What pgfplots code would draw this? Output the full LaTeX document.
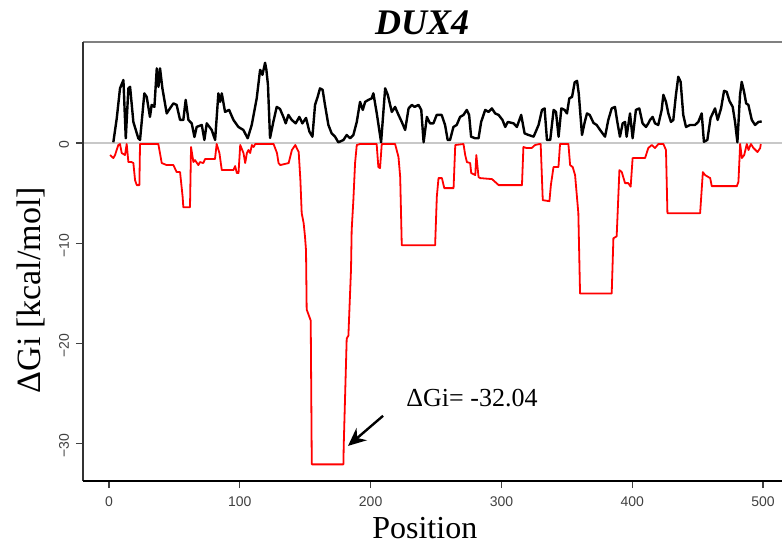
\documentclass[border=0pt]{standalone}
\usepackage{pgfplots}
\pgfplotsset{compat=1.18}
\usepackage{fontspec}
\setmainfont{Liberation Serif}
\newfontfamily\tickfont{Liberation Sans}
\usetikzlibrary{arrows.meta}
\definecolor{tickgray}{HTML}{404040}
\definecolor{zerogray}{HTML}{C8C8C8}
\begin{document}
\begin{tikzpicture}
\useasboundingbox (0,0) rectangle (391pt,274pt);
\begin{axis}[
  at={(41.5pt,33.5pt)}, anchor=south west,
  scale only axis, width=349.5pt, height=219.5pt,
  xmin=-19.9, xmax=514.5, ymin=-33.7, ymax=10.07,
  axis line style={draw=none},
  tick pos=left, tick align=outside,
  major tick length=3.5pt,
  every tick/.style={tickgray, line width=0.6pt},
  xtick={0,100,200,300,400,500},
  xticklabels={0,100,200,300,400,500},
  ytick={-30,-20,-10,0},
  yticklabels={−30,−20,−10,0},
  xticklabel style={font=\tickfont\fontsize{7}{8}\selectfont, text=tickgray, yshift=-1pt},
  yticklabel style={font=\tickfont\fontsize{7}{8}\selectfont, text=tickgray, rotate=90, anchor=south, xshift=-1pt},
  every axis title shift=0pt,
  title={\textbf{\textit{DUX4}}},
  title style={at={(axis description cs:0.485,1.018)}, anchor=base, yshift=0pt, font=\fontsize{18}{20}\selectfont},
  xlabel={Position},
  xlabel style={at={(axis description cs:0.489,-0.13)}, anchor=base, font=\fontsize{16}{18}\selectfont},
  ylabel={ΔGi [kcal/mol]},
  ylabel style={at={(axis description cs:-0.0615,0.435)}, anchor=base, rotate=0, font=\fontsize{17}{19}\selectfont},
  clip=false,
]
\draw[zerogray, line width=1pt] (axis cs:-19.9,0) -- (axis cs:514.5,0);
\draw[gray, line width=0.6pt] (rel axis cs:0,1) -- (rel axis cs:1,1);
\draw[black!80, line width=0.6pt] (rel axis cs:0,0) -- (rel axis cs:0,1);
\draw[black, line width=1.1pt] (rel axis cs:0,0) -- (rel axis cs:1,0);
\addplot[black, line width=1.2pt, line join=round] coordinates {
(3.3,0.07)(5.9,2.46)(8.4,5.45)(11.0,6.28)(12.8,0.47)(14.8,5.45)(16.1,5.6)(18.6,2.1)(22.4,0.47)(23.7,0.3)(27.0,4.95)(28.8,4.6)(31.3,2.6)(32.6,3.8)(34.7,3.6)(36.5,7.44)(37.8,5.6)(39.0,7.44)(40.8,5.45)(44.1,2.95)(46.6,3.45)(49.2,3.95)(51.7,3.8)(54.3,2.3)(56.8,2.3)(58.6,4.3)(60.7,2.3)(63.2,1.96)(65.3,0.6)(67.0,1.6)(70.9,1.8)(72.9,0.3)(74.7,1.96)(78.5,1.3)(81.1,0.3)(83.6,4.95)(84.9,4.1)(86.2,4.95)(88.7,3.1)(91.8,3.3)(95.1,2.3)(98.9,1.6)(102.7,1.3)(106.0,0.47)(109.1,1.8)(112.9,4.45)(115.5,7.3)(117.3,6.8)(119.3,8.0)(120.3,7.3)(121.5,5.8)(123.1,0.5)
(125.6,2.1)(128.2,3.6)(130.7,3.4)(133.3,2.6)(135.1,1.96)(137.1,2.8)(139.7,2.3)(142.7,1.96)(145.5,2.6)(147.8,1.96)(150.6,2.5)(153.2,1.13)(155.5,0.63)(157.5,3.8)(159.5,4.6)(161.3,5.45)(163.3,5.3)(165.1,3.8)(167.7,1.8)(170.2,0.96)(172.8,0.63)(175.3,0.07)(179.2,0.3)(181.7,0.8)(184.3,0.47)(186.8,0.8)(189.4,2.1)(191.9,4.1)(194.0,3.3)(195.8,4.1)(198.3,4.3)(200.8,4.45)(202.1,4.95)(204.7,2.95)(208.0,0.07)(211.1,5.45)(213.1,4.8)(216.2,3.1)(218.7,3.6)(220.8,2.95)(223.8,2.1)(226.4,1.3)(229.0,3.45)(231.5,3.8)(233.6,3.6)(236.6,3.8)(238.7,3.3)(240.5,0.07)(243.0,2.6)(245.4,1.96)(248.0,1.96)(250.5,2.8)(254.3,2.8)(256.9,1.8)(258.9,0.3)(260.7,0.3)(263.3,1.6)(265.8,1.8)(268.4,2.6)(271.0,2.8)(273.5,3.3)(275.3,2.8)(276.8,0.63)(279.9,0.47)(282.5,0.47)(284.5,2.1)(287.6,3.3)(290.1,3.1)(292.7,3.45)(295.2,2.95)(297.8,2.8)(300.8,2.3)(302.9,1.6)(304.9,2.1)(309.3,1.96)(311.8,1.6)(315.1,2.8)(317.7,0.96)(320.7,0.8)(324.6,0.63)(328.4,1.8)(331.0,3.3)(333.0,3.45)(334.8,0.3)(337.3,0.3)(339.9,3.3)(341.7,3.1)(343.7,0.63)(345.8,3.45)(348.3,3.3)(350.1,2.95)(351.9,4.45)(354.0,4.6)(356.0,6.05)(357.8,6.2)(359.1,4.95)(361.6,0.8)(363.7,2.1)(365.4,2.95)(367.5,2.8)(370.4,2.0)(372.8,1.8)(375.4,1.3)(379.2,0.63)(381.7,2.3)(384.3,3.45)(386.8,3.6)(388.6,2.1)(390.6,0.63)(392.7,1.96)(394.5,2.1)(395.7,0.63)(398.3,2.95)(400.3,0.47)(402.8,3.3)(405.4,3.45)(407.9,1.96)(410.5,1.6)(412.3,1.96)(413.6,2.3)(415.6,2.6)(417.4,1.96)(419.9,1.8)(422.5,3.3)(423.8,4.8)(425.8,4.1)(427.6,2.95)(429.6,2.1)(431.4,2.3)(433.4,4.8)(435.2,6.6)(437.0,6.1)(439.0,2.8)(441.1,1.6)(444.2,1.8)(448.0,1.8)(450.5,2.1)(453.1,2.95)(454.8,0.13)(457.4,0.3)(459.9,2.5)(463.3,3.45)(465.3,2.3)(467.9,3.45)(470.2,5.2)(472.2,5.1)(474.3,4.2)(476.8,3.6)(478.6,2.1)(480.4,0.07)(482.4,4.8)(483.7,6.1)(485.5,5.1)(487.1,3.95)(488.8,3.8)(491.4,2.3)(493.9,1.8)(496.5,2.1)(499.0,2.15)
};
\addplot[red, line width=0.9pt, line join=round] coordinates {
(0.8,-1.2)(3.3,-1.5)(4.6,-1.2)(7.1,-0.2)(8.4,-0.1)(9.7,-1.0)(12.2,-1.2)(13.5,-0.1)(14.8,-1.9)(17.3,-1.9)(18.6,-2.0)(19.9,-3.7)(21.2,-4.2)(23.2,-4.2)(23.7,-0.1)(37.7,-0.1)(40.3,-2.0)(44.1,-2.2)(49.2,-2.2)(51.7,-2.9)(54.3,-2.9)(56.3,-5.4)(56.8,-6.4)(61.9,-6.4)(62.7,-0.4)(64.5,-1.9)(65.7,-1.7)(68.3,-2.2)(69.5,-1.9)(72.1,-2.0)(73.4,-1.6)(81.0,-1.6)(82.3,-0.1)(84.4,-1.0)(86.2,-2.7)(95.1,-2.7)(96.4,-2.3)(97.7,-3.0)(99.0,-3.0)(100.3,-0.2)(102.8,-1.0)(104.1,-2.0)(105.4,-1.0)(106.6,-0.7)(107.9,-1.0)(109.2,-0.2)(110.5,-0.4)(111.8,-0.1)(125.8,-0.1)(128.4,-1.0)(129.6,-2.0)(130.9,-2.2)(137.3,-2.0)(139.8,-0.7)(142.4,-0.2)(145.0,-0.9)(146.3,-3.7)(147.3,-7.0)(148.8,-8.0)(149.8,-9.3)(150.6,-10.7)(151.1,-16.6)(154.2,-17.7)(155.0,-32.04)(179.2,-32.04)(179.4,-30.3)(181.7,-19.5)(183.0,-19.2)(185.0,-12.6)(185.5,-8.7)(186.8,-5.7)(188.1,-2.0)(189.4,-0.2)(191.9,-0.1)(204.6,-0.1)(205.9,-2.4)(207.2,-2.5)(208.5,-0.1)(218.7,-0.1)(221.3,-1.4)(222.6,-3.4)(223.8,-10.2)(249.3,-10.2)(250.6,-5.35)(251.9,-3.5)(254.5,-3.5)(256.3,-4.5)(263.4,-4.5)(264.7,-0.2)(271.0,-0.1)(272.3,-1.2)(273.6,-1.9)(276.1,-2.0)(276.9,-3.0)(280.0,-3.2)(280.8,-1.2)(282.5,-3.4)(283.8,-3.5)(292.8,-3.6)(297.9,-4.2)(315.7,-4.2)(316.8,-0.4)(319.3,-0.5)(323.1,-0.5)(325.7,-0.2)(329.0,-0.1)(330.0,-0.1)(331.6,-5.7)(336.7,-5.8)(337.8,-4.2)(339.8,-2.4)(343.6,-2.4)(344.8,-0.1)(351.2,-0.1)(352.5,-2.2)(354.5,-2.4)(356.3,-3.2)(358.8,-7.0)(360.1,-15.0)(384.3,-15.0)(385.6,-9.5)(388.1,-9.3)(390.2,-2.7)(392.0,-2.9)(394.5,-4.0)(397.0,-4.0)(398.8,-4.35)(400.3,-1.5)(409.8,-1.5)(412.3,-0.5)(414.9,-0.2)(417.4,-0.5)(420.0,-0.1)(423.8,-0.1)(425.8,-0.7)(426.9,-7.0)(451.9,-7.0)(454.0,-2.9)(455.7,-3.2)(459.6,-3.5)(460.8,-4.3)(480.0,-4.3)(481.2,-3.85)(482.5,-0.1)(483.8,-1.5)(485.6,-1.2)(487.6,-0.1)(488.9,-0.7)(490.7,-0.1)(492.7,-0.5)(495.8,-0.9)(497.8,-0.5)(498.3,-0.1)
};
\draw[black, line width=1.2pt, -{Stealth[length=9pt,width=8pt]}] (axis cs:209.5,-27.2) -- (axis cs:182.7,-30.2);
\node[font=\fontsize{13}{15}\selectfont] at (axis cs:277.5,-25.4) {ΔGi= -32.04};
\end{axis}
\end{tikzpicture}
\end{document}
